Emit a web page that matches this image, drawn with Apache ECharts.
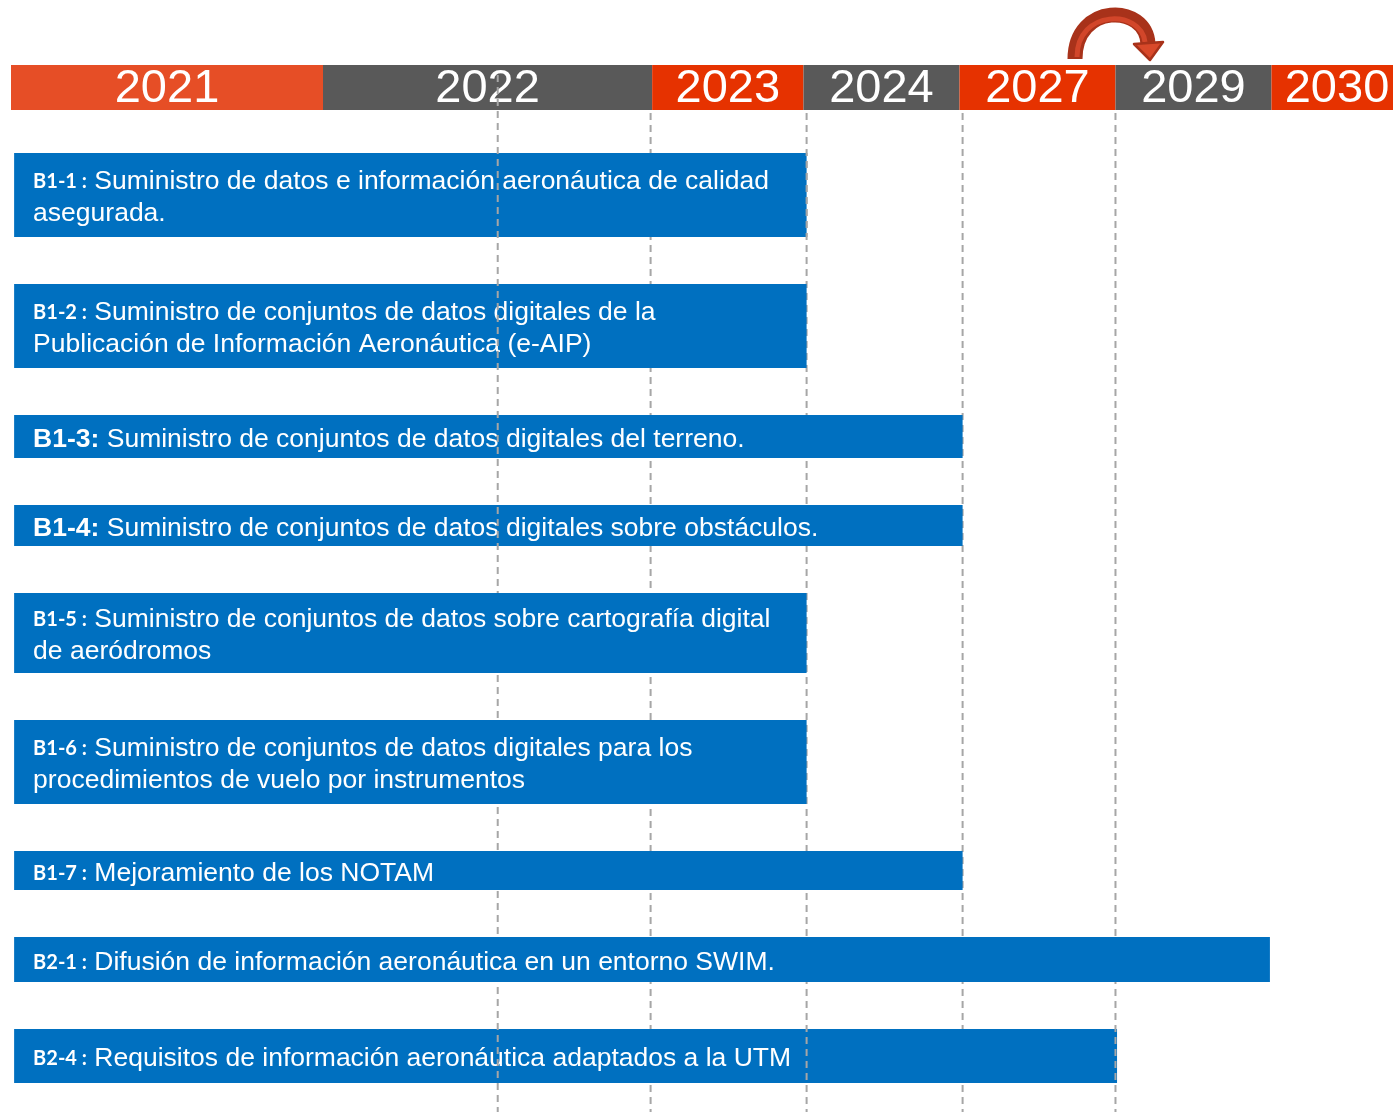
<!DOCTYPE html>
<html><head><meta charset="utf-8">
<script src="https://cdn.jsdelivr.net/npm/echarts@6/dist/echarts.min.js"></script>
<style>html,body{margin:0;padding:0;background:#fff;overflow:hidden}#c{width:1393px;height:1112px}</style>
</head><body><div id="c"></div><script>
// ---- Data ----
const yearLabels = ['2021', '2022', '2023', '2024', '2027', '2029', '2030'];
const yearStarts = [0, 2.0, 4.11, 5.08, 6.08, 7.08, 8.08];
const yearEnds   = [2.0, 4.11, 5.08, 6.08, 7.08, 8.08, 8.92];

const taskCodes = ['B1-1 :', 'B1-2 :', 'B1-3:', 'B1-4:', 'B1-5 :', 'B1-6 :', 'B1-7 :', 'B2-1 :', 'B2-4 :'];
const taskLines = [
  ['Suministro de datos e información aeronáutica de calidad', 'asegurada.'],
  ['Suministro de conjuntos de datos digitales de la', 'Publicación de Información Aeronáutica (e-AIP)'],
  ['Suministro de conjuntos de datos digitales del terreno.'],
  ['Suministro de conjuntos de datos digitales sobre obstáculos.'],
  ['Suministro de conjuntos de datos sobre cartografía digital', 'de aeródromos'],
  ['Suministro de conjuntos de datos digitales para los', 'procedimientos de vuelo por instrumentos'],
  ['Mejoramiento de los NOTAM'],
  ['Difusión de información aeronáutica en un entorno SWIM.'],
  ['Requisitos de información aeronáutica adaptados a la UTM']
];
const taskStarts = [0.02, 0.02, 0.02, 0.02, 0.02, 0.02, 0.02, 0.02, 0.02];
const taskEnds   = [5.1, 5.1, 6.1, 6.1, 5.1, 5.1, 6.1, 8.07, 7.09];

const milestones = [3.12, 4.1, 5.1, 6.1, 7.08];

// ---- Layout / style ----
const rowHeights = [84, 84, 43, 41, 80, 84, 39, 45, 54];
const rowGap = 47;
const firstRowTop = 88;
const bandHeight = 45;
const lineTops = [10, 48, 48, 48, 48];
const axisMaxY = 1047;
// which dashed guide lines show on top of each bar (layering of the original drawing)
const linesOverBar = [[0, 2], [0], [0], [0], [], [], [], [], [0, 2, 4]];
const rowTops = [];
(function(){ let t = firstRowTop; for (let i = 0; i < rowHeights.length; i++) { rowTops.push(t); t += rowHeights[i] + rowGap; } })();
const prefixArial = [false, false, true, true, false, false, false, false, false];
const bandColors = ['#E64E26', '#595959', '#E63200', '#595959', '#E63200', '#595959', '#E63200'];
const ARIAL = "'Liberation Sans', Arial, sans-serif";
const DASH = { stroke: '#A6A6A6', lineWidth: 2, lineDash: [7, 5] };

function renderBand(params, api) {
  const i = api.value(2);
  const p0 = api.coord([api.value(0), 0]);
  const p1 = api.coord([api.value(1), bandHeight]);
  return {
    type: 'group',
    children: [
      { type: 'rect', shape: { x: p0[0], y: p0[1], width: p1[0] - p0[0], height: p1[1] - p0[1] }, style: { fill: bandColors[i] } },
      { type: 'text', x: (p0[0] + p1[0]) / 2, y: (p0[1] + p1[1]) / 2 + 2,
        style: { text: yearLabels[i], fill: '#fff', fontSize: 47, fontFamily: ARIAL, align: 'center', verticalAlign: 'middle' } }
    ]
  };
}

function renderTask(params, api) {
  const i = api.value(2);
  const top = rowTops[i], h = rowHeights[i];
  const p0 = api.coord([api.value(0), top]);
  const p1 = api.coord([api.value(1), top + h]);
  const lines = taskLines[i];
  let txt = '{' + (prefixArial[i] ? 'pa' : 'p') + '|' + taskCodes[i] + '} {t|' + lines[0] + '}';
  for (let k = 1; k < lines.length; k++) txt += '\n{t|' + lines[k] + '}';
  const rectShape = { x: p0[0], y: p0[1], width: p1[0] - p0[0], height: p1[1] - p0[1] };
  const children = [
    { type: 'rect', shape: rectShape, style: { fill: '#0070C0' } },
    { type: 'text', x: p0[0] + 19, y: (p0[1] + p1[1]) / 2 + 3,
      style: {
        text: txt, fill: '#fff', fontSize: 26.5, fontFamily: ARIAL, lineHeight: 32,
        align: 'left', verticalAlign: 'middle',
        rich: {
          p: { fontFamily: 'Lato, sans-serif', fontWeight: 'bold', fontSize: 20, fill: '#fff', lineHeight: 32 },
          pa: { fontFamily: ARIAL, fontWeight: 'bold', fontSize: 26.5, fill: '#fff', lineHeight: 32 },
          t: { fontFamily: ARIAL, fontSize: 26.5, fill: '#fff', lineHeight: 32 }
        }
      } }
  ];
  linesOverBar[i].forEach(function (j) {
    const a = api.coord([milestones[j], lineTops[j]]);
    const b = api.coord([milestones[j], axisMaxY]);
    children.push({ type: 'line', shape: { x1: a[0], y1: a[1], x2: b[0], y2: b[1] }, style: DASH,
      clipPath: { type: 'rect', shape: { x: rectShape.x - 2, y: rectShape.y, width: rectShape.width + 4, height: rectShape.height } } });
  });
  return { type: 'group', children: children };
}

function renderLine(params, api) {
  const i = api.value(1);
  const p0 = api.coord([api.value(0), lineTops[i]]);
  const p1 = api.coord([api.value(0), axisMaxY]);
  return { type: 'line', shape: { x1: p0[0], y1: p0[1], x2: p1[0], y2: p1[1] }, style: DASH };
}

const chart = echarts.init(document.getElementById('c'), null, { renderer: 'canvas' });
chart.setOption({
  animation: false,
  backgroundColor: '#ffffff',
  grid: { left: 11, right: 0, top: 65, bottom: 0 },
  xAxis: { type: 'value', min: 0, max: 1382 / 156, show: false },
  yAxis: { type: 'value', min: 0, max: axisMaxY, inverse: true, show: false },
  series: [
    { type: 'custom', z: 1, renderItem: renderBand, clip: true,
      data: yearLabels.map((y, i) => [yearStarts[i], yearEnds[i], i]), encode: { x: [0, 1] } },
    { type: 'custom', z: 2, renderItem: renderLine,
      data: milestones.map((m, i) => [m, i]), encode: { x: 0 } },
    { type: 'custom', z: 3, renderItem: renderTask,
      data: taskCodes.map((c, i) => [taskStarts[i], taskEnds[i], i]), encode: { x: [0, 1] } }
  ],
  graphic: [
    { type: 'bezierCurve', z: 10,
      shape: { x1: 1075, y1: 59, cpx1: 1075, cpy1: 3, cpx2: 1146, cpy2: 3, x2: 1148, y2: 44 },
      style: { stroke: '#A8321A', lineWidth: 15, fill: null } },
    { type: 'bezierCurve', z: 11,
      shape: { x1: 1077, y1: 57, cpx1: 1077, cpy1: 9, cpx2: 1141, cpy2: 9, x2: 1145, y2: 42 },
      style: { stroke: '#D2462A', lineWidth: 5, fill: null } },
    { type: 'polygon', z: 12, shape: { points: [[1134, 44], [1163, 42], [1150, 60]] },
      style: { fill: '#D9492A', stroke: '#A8321A', lineWidth: 2.5, lineJoin: 'round' } }
  ]
});
</script></body></html>
